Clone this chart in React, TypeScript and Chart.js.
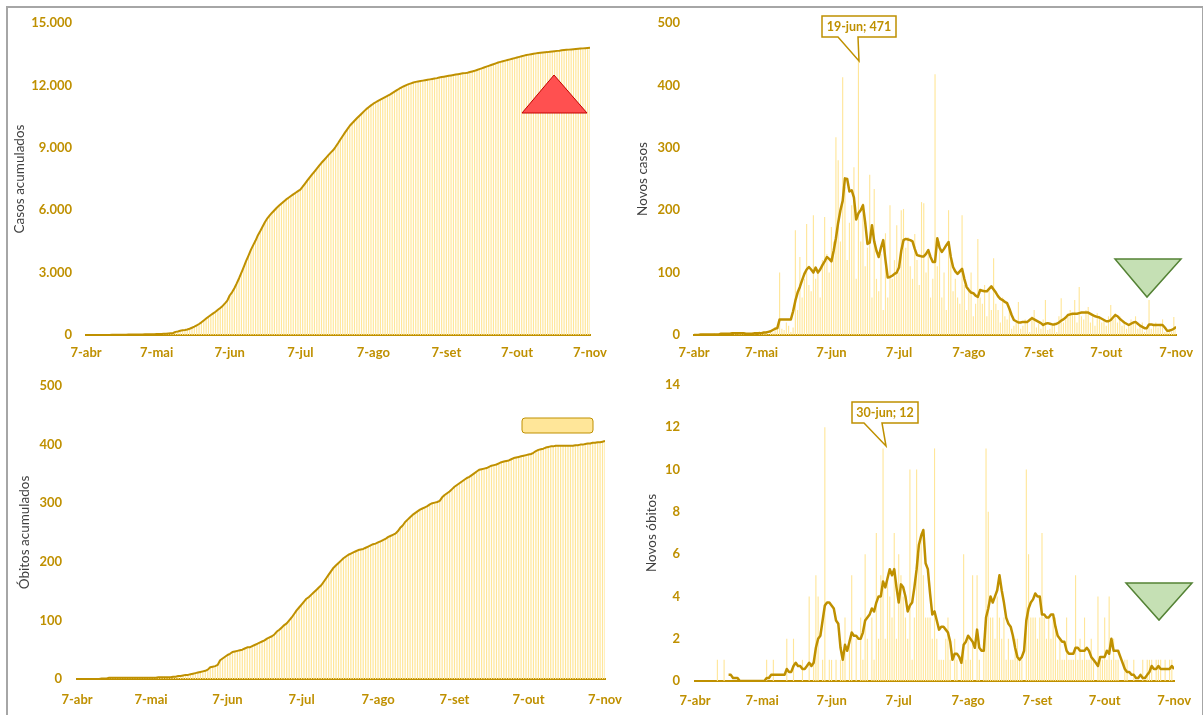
import React, { useEffect, useRef } from 'react';
import { Chart, registerables } from 'chart.js';
Chart.register(...registerables);

const W = 1203;
const H = 715;
const OURO = '#BF9000';
const BARRA = '#FFE699';
const FONTE = 'Lato, "Open Sans", "DejaVu Sans", sans-serif';

// Eixo de datas: dia 0 = 7-abr, dia 214 = 7-nov
const tickDias = [0, 30, 61, 91, 122, 153, 183, 214];
const tickRotulos = ['7-abr', '7-mai', '7-jun', '7-jul', '7-ago', '7-set', '7-out', '7-nov'];

const casosAcum = [
  0, 0, 0, 1, 1, 2, 3, 3, 4, 5,
  6, 7, 8, 10, 12, 14, 15, 17, 19, 20,
  22, 25, 27, 28, 30, 32, 35, 37, 38, 42,
  44, 47, 52, 55, 60, 70, 82, 95, 150, 170,
  200, 225, 240, 262, 300, 350, 400, 460, 530, 610,
  700, 790, 880, 960, 1040, 1120, 1210, 1300, 1400, 1520,
  1650, 1900, 2050, 2250, 2480, 2730, 3000, 3280, 3560, 3820,
  4090, 4320, 4540, 4800, 5000, 5220, 5430, 5610, 5750, 5880,
  6000, 6120, 6220, 6320, 6420, 6520, 6600, 6680, 6760, 6840,
  6920, 6990, 7130, 7280, 7430, 7580, 7720, 7860, 8000, 8140,
  8280, 8400, 8530, 8660, 8780, 8890, 9050, 9220, 9400, 9570,
  9740, 9900, 10060, 10180, 10300, 10420, 10530, 10640, 10750, 10860,
  10950, 11040, 11120, 11190, 11260, 11320, 11380, 11440, 11500, 11560,
  11630, 11700, 11770, 11840, 11900, 11960, 12010, 12060, 12100, 12140,
  12170, 12190, 12210, 12230, 12250, 12270, 12290, 12310, 12330, 12350,
  12380, 12400, 12420, 12440, 12460, 12480, 12500, 12520, 12540, 12560,
  12580, 12590, 12610, 12640, 12670, 12700, 12740, 12780, 12820, 12860,
  12900, 12940, 12980, 13020, 13060, 13100, 13130, 13160, 13190, 13220,
  13250, 13280, 13310, 13340, 13370, 13400, 13430, 13460, 13480, 13500,
  13520, 13540, 13560, 13570, 13580, 13590, 13600, 13615, 13630, 13645,
  13660, 13670, 13685, 13700, 13710, 13720, 13730, 13740, 13750, 13760,
  13770, 13780, 13790, 13800, 13810,
];

const novosCasos = [
  0, 1, 0, 0, 2, 0, 1, 0, 0, 3,
  1, 0, 2, 1, 0, 3, 2, 0, 4, 1,
  2, 5, 1, 0, 3, 2, 4, 1, 0, 6,
  2, 3, 5, 1, 8, 4, 12, 15, 100, 10,
  8, 20, 15, 5, 12, 168, 40, 125, 60, 90,
  178, 80, 70, 192, 90, 100, 60, 120, 189, 130,
  100, 173, 150, 317, 280, 150, 413, 237, 120, 180,
  208, 269, 90, 471, 150, 211, 110, 140, 257, 60,
  234, 90, 70, 130, 40, 163, 60, 208, 90, 120,
  176, 100, 200, 202, 140, 157, 110, 90, 162, 120,
  80, 213, 211, 100, 130, 60, 90, 418, 110, 150,
  60, 100, 40, 200, 120, 70, 90, 60, 50, 192,
  80, 40, 70, 100, 30, 50, 154, 60, 50, 80,
  30, 70, 40, 123, 50, 40, 20, 60, 30, 25,
  45, 10, 15, 20, 53, 10, 15, 25, 20, 5,
  30, 40, 12, 18, 10, 25, 56, 8, 10, 15,
  20, 5, 30, 59, 20, 25, 30, 40, 35, 56,
  20, 77, 30, 25, 40, 45, 20, 30, 15, 35,
  30, 20, 25, 15, 30, 48, 25, 35, 20, 30,
  15, 20, 10, 15, 25, 20, 30, 10, 15, 20,
  5, 12, 56, 10, 15, 20, 12, 18, 25, 5,
  8, 10, 5, 29, 12,
];

const mediaCasos = [
  0, 0, 0, 1, 1, 1, 1, 1, 1, 1,
  1, 1, 2, 2, 2, 2, 2, 3, 3, 3,
  3, 3, 3, 2, 2, 2, 2, 3, 3, 3,
  3, 4, 4, 5, 6, 8, 10, 11, 25, 25,
  25, 25, 25, 25, 38, 55, 68, 77, 88, 98,
  105, 109, 105, 100, 108, 100, 105, 112, 118, 125,
  122, 118, 135, 155, 180, 200, 215, 251, 250, 230,
  232, 220, 185, 195, 200, 208, 180, 146, 148, 176,
  150, 135, 125, 140, 152, 120, 92, 93, 95, 98,
  100, 108, 135, 152, 154, 153, 152, 150, 138, 128,
  127, 126, 126, 130, 136, 125, 117, 117, 155, 140,
  133, 138, 144, 149, 125, 109, 102, 98, 102, 106,
  90, 77, 72, 68, 67, 63, 61, 72, 71, 70,
  70, 74, 78, 73, 68, 62, 58, 56, 53, 51,
  42, 32, 24, 22, 20, 20, 21, 21, 21, 24,
  27, 25, 23, 21, 19, 16, 18, 19, 18, 17,
  17, 18, 20, 23, 25, 28, 32, 33, 34, 34,
  34, 35, 36, 36, 36, 36, 34, 32, 30, 29,
  28, 26, 24, 22, 22, 24, 28, 32, 30, 26,
  23, 20, 18, 16, 18, 20, 21, 18, 15, 13,
  11, 11, 17, 17, 16, 16, 16, 16, 16, 12,
  7, 7, 8, 10, 13,
];

const obitosAcum = [
  0, 0, 0, 0, 0, 0, 0, 0, 0, 0,
  1, 1, 1, 2, 2, 2, 2, 2, 2, 2,
  2, 2, 2, 2, 2, 2, 2, 2, 2, 2,
  2, 2, 2, 3, 3, 3, 3, 3, 3, 4,
  4, 5, 5, 6, 7, 7, 8, 9, 10, 11,
  12, 13, 14, 16, 20, 21, 22, 24, 32, 35,
  38, 41, 43, 46, 47, 48, 49, 50, 52, 54,
  54, 56, 58, 60, 62, 64, 66, 69, 71, 73,
  76, 81, 84, 88, 92, 95, 100, 105, 111, 117,
  122, 127, 132, 137, 140, 144, 148, 152, 156, 160,
  166, 172, 178, 184, 190, 194, 198, 202, 206, 209,
  212, 214, 216, 218, 220, 221, 222, 224, 226, 228,
  230, 231, 233, 235, 237, 239, 242, 244, 246, 248,
  252, 258, 262, 268, 272, 276, 280, 283, 286, 289,
  291, 293, 295, 298, 300, 301, 302, 304, 310, 314,
  317, 320, 324, 328, 331, 334, 337, 340, 343, 345,
  348, 351, 354, 357, 358, 359, 360, 362, 364, 365,
  366, 368, 370, 371, 372, 373, 375, 377, 378, 379,
  380, 381, 382, 383, 384, 386, 389, 391, 392, 393,
  395, 396, 397, 397, 398, 398, 398, 398, 398, 398,
  398, 398, 399, 399, 400, 400, 401, 402, 402, 403,
  403, 404, 404, 405, 406,
];

const novosObitos = [
  0, 0, 0, 0, 0, 0, 0, 0, 0, 0,
  1, 0, 0, 1, 0, 0, 0, 0, 0, 0,
  0, 0, 0, 0, 0, 0, 0, 0, 0, 0,
  0, 0, 1, 0, 0, 1, 0, 0, 0, 0,
  0, 2, 0, 0, 2, 0, 0, 0, 1, 0,
  0, 4, 0, 1, 5, 4, 0, 1, 12, 0,
  1, 1, 0, 1, 0, 1, 1, 3, 0, 2,
  5, 0, 2, 0, 3, 1, 6, 2, 0, 3,
  1, 7, 2, 5, 11, 2, 5, 4, 3, 7,
  2, 6, 5, 4, 3, 2, 10, 1, 3, 10,
  6, 7, 5, 3, 3, 3, 2, 11, 2, 1,
  1, 1, 2, 3, 1, 0, 2, 1, 0, 1,
  6, 1, 2, 1, 5, 0, 5, 1, 0, 2,
  11, 8, 3, 3, 2, 4, 3, 2, 3, 1,
  2, 1, 1, 2, 2, 1, 1, 0, 10, 6,
  3, 3, 3, 2, 3, 7, 3, 2, 3, 2,
  3, 3, 1, 2, 1, 1, 3, 1, 1, 1,
  5, 1, 2, 1, 3, 1, 1, 2, 1, 0,
  4, 1, 1, 3, 1, 4, 1, 2, 1, 1,
  0, 0, 1, 1, 0, 0, 1, 0, 0, 0,
  1, 0, 1, 1, 1, 0, 1, 1, 1, 0,
  1, 0, 1, 1, 0,
];

const mediaObitos = [
  null, null, null, null, null, null, null, null, null, null,
  null, null, null, null, null, 0.29, 0.29, 0.14, 0.14, 0.14,
  0, 0, 0, 0, 0, 0, 0, 0, 0, 0,
  0, 0, 0.14, 0.14, 0.29, 0.29, 0.29, 0.29, 0.29, 0.29,
  0.29, 0.57, 0.43, 0.43, 0.71, 0.86, 0.71, 0.71, 0.57, 0.57,
  0.71, 0.86, 0.71, 0.86, 1.57, 2.0, 2.14, 2.86, 3.57, 3.71,
  3.71, 3.57, 3.43, 2.86, 2.71, 1.57, 1.0, 1.71, 1.43, 1.86,
  2.29, 2.14, 2.14, 2.0, 2.0, 2.29, 2.86, 3.0, 3.14, 3.43,
  3.29, 3.71, 4.0, 4.0, 4.71, 4.43, 4.86, 5.29, 5.0, 5.29,
  4.43, 3.71, 4.57, 4.43, 4.0, 3.29, 3.57, 3.71, 4.43, 5.29,
  6.43, 6.86, 7.14, 5.57, 5.29, 4.14, 3.14, 3.29, 2.86, 2.43,
  2.57, 2.57, 2.43, 2.29, 1.86, 1.0, 1.29, 1.29, 1.14, 0.86,
  1.71, 1.86, 2.14, 2.0, 1.86, 1.57, 2.43, 1.57, 1.43, 1.43,
  3.0, 3.43, 4.0, 3.71, 4.0, 4.29, 5.0, 4.29, 3.71, 3.0,
  2.71, 2.57, 2.14, 1.57, 1.14, 1.0, 1.14, 1.43, 2.86, 3.43,
  3.71, 3.86, 4.14, 4.0, 4.0, 3.14, 3.14, 3.0, 3.0, 3.14,
  3.14, 2.57, 2.14, 2.0, 1.86, 1.86, 1.43, 1.29, 1.29, 1.29,
  1.57, 1.57, 1.43, 1.43, 1.43, 1.57, 1.43, 1.14, 1.0, 0.86,
  0.71, 1.14, 1.14, 1.14, 1.43, 1.29, 2.0, 1.43, 1.43, 1.43,
  1.14, 0.86, 0.57, 0.43, 0.43, 0.29, 0.29, 0.14, 0.14, 0.29,
  0.14, 0.14, 0.29, 0.43, 0.71, 0.57, 0.57, 0.71, 0.57, 0.57,
  0.57, 0.57, 0.57, 0.71, 0.57,
];

const milhar = (v: number) => String(v).replace(/\B(?=(\d{3})+(?!\d))/g, '.');

Chart.defaults.font.family = FONTE;

type Painel = {
  barras: number[];
  linha: (number | null)[];
  max: number;
  passo: number;
  titulo: string;
  L: number; R: number; T: number; B: number; esq: number;
  yPad: number; xPad: number; tPad: number; lw: number; bp: number;
  fmt: (v: number) => string;
};

function montar(p: Painel): any {
  const pts = (arr: (number | null)[]) => arr.map((v, i) => ({ x: i, y: v }));
  return {
    type: 'bar',
    data: {
      datasets: [
        {
          type: 'line', data: pts(p.linha), borderColor: OURO, borderWidth: p.lw,
          pointRadius: 0, tension: 0, order: 0, spanGaps: false, fill: false,
          borderJoinStyle: 'round',
        },
        {
          type: 'bar', data: pts(p.barras), backgroundColor: BARRA, borderWidth: 0,
          barPercentage: p.bp, categoryPercentage: 1, order: 1,
        },
      ],
    },
    options: {
      animation: false,
      responsive: false,
      devicePixelRatio: 1,
      layout: { padding: { left: p.esq, right: W - p.R, top: p.T, bottom: H - p.B - 30 } },
      plugins: { legend: { display: false }, tooltip: { enabled: false } },
      scales: {
        x: {
          type: 'linear', min: 0, max: 214, offset: false,
          grid: { display: false, drawTicks: false },
          border: { display: true, color: OURO, width: 2 },
          afterBuildTicks: (s: any) => { s.ticks = tickDias.map((v) => ({ value: v })); },
          afterFit: (s: any) => { s.height = 30; },
          ticks: {
            autoSkip: false, maxRotation: 0, minRotation: 0, padding: p.xPad, color: OURO,
            font: { size: 13, weight: 'bold' },
            callback: (v: number) => { const k = tickDias.indexOf(v); return k >= 0 ? tickRotulos[k] : ''; },
          },
        },
        y: {
          min: 0, max: p.max,
          grid: { display: false, drawTicks: false },
          border: { display: false },
          afterFit: (s: any) => { s.width = p.L - p.esq; },
          ticks: { stepSize: p.passo, padding: p.yPad, color: OURO, font: { size: 13, weight: 'bold' }, callback: (v: number) => p.fmt(v) },
          title: { display: true, text: p.titulo, color: '#404040', font: { size: 13.5, weight: 'normal' }, padding: { top: p.tPad, bottom: 0 } },
        },
      },
    },
  };
}

const paineis: Painel[] = [
  { barras: casosAcum, linha: casosAcum, max: 15000, passo: 3000, titulo: 'Casos acumulados',
    L: 86, R: 590, T: 23, B: 335, esq: 0, yPad: 14, xPad: 10, tPad: 12, lw: 2, bp: 0.5, fmt: milhar },
  { barras: novosCasos, linha: mediaCasos, max: 500, passo: 100, titulo: 'Novos casos',
    L: 694, R: 1177, T: 23, B: 335, esq: 610, yPad: 14, xPad: 10, tPad: 25, lw: 2.5, bp: 0.5, fmt: milhar },
  { barras: obitosAcum, linha: obitosAcum, max: 500, passo: 100, titulo: 'Óbitos acumulados',
    L: 77, R: 605, T: 386, B: 679, esq: 0, yPad: 15, xPad: 13, tPad: 17, lw: 2, bp: 0.5, fmt: milhar },
  { barras: novosObitos, linha: mediaObitos, max: 14, passo: 2, titulo: 'Novos óbitos',
    L: 695, R: 1179, T: 385, B: 681, esq: 610, yPad: 15, xPad: 12, tPad: 34, lw: 2.5, bp: 0.5, fmt: milhar },
];

function Grafico({ p }: { p: Painel }) {
  const ref = useRef<HTMLCanvasElement>(null);
  useEffect(() => {
    const chart = new Chart(ref.current as HTMLCanvasElement, montar(p));
    return () => chart.destroy();
  }, []);
  return (
    <canvas ref={ref} width={W} height={H}
      style={{ position: 'absolute', left: 0, top: 0, width: W, height: H, pointerEvents: 'none' }} />
  );
}

export default function App() {
  return (
    <div style={{ position: 'fixed', left: 0, top: 0, width: W, height: H, background: '#fff', overflow: 'hidden' }}>
      <div style={{ position: 'absolute', left: 6, top: 6, width: 1194, height: 730, border: '2px solid #A6A6A6' }} />
      {paineis.map((p, i) => <Grafico key={i} p={p} />)}
      <svg width={W} height={H} style={{ position: 'absolute', left: 0, top: 0, pointerEvents: 'none' }}>
        <polygon points="554,75 522,113 587,113" fill="#FF5050" stroke="#C00000" strokeWidth={1} />
        <polygon points="1115,259 1181,259 1147,297" fill="#C5E0B4" stroke="#548235" strokeWidth={1.5} />
        <polygon points="1126,583 1192,583 1159,620" fill="#C5E0B4" stroke="#548235" strokeWidth={1.5} />
        <rect x={522} y={418} width={71} height={15} rx={3} fill="#FFE699" stroke={OURO} strokeWidth={1} />
        <path d="M822,16 H896 V37 H858 L859,61 L838,37 H822 Z" fill="#fff" stroke={OURO} strokeWidth={1.5} />
        <text x={859} y={31} textAnchor="middle" fill={OURO} fontFamily={FONTE} fontWeight="bold" fontSize={12.5}>19-jun; 471</text>
        <path d="M852,402 H918 V423 H882 L886,446 L864,423 H852 Z" fill="#fff" stroke={OURO} strokeWidth={1.5} />
        <text x={885} y={417} textAnchor="middle" fill={OURO} fontFamily={FONTE} fontWeight="bold" fontSize={12.5}>30-jun; 12</text>
      </svg>
    </div>
  );
}
